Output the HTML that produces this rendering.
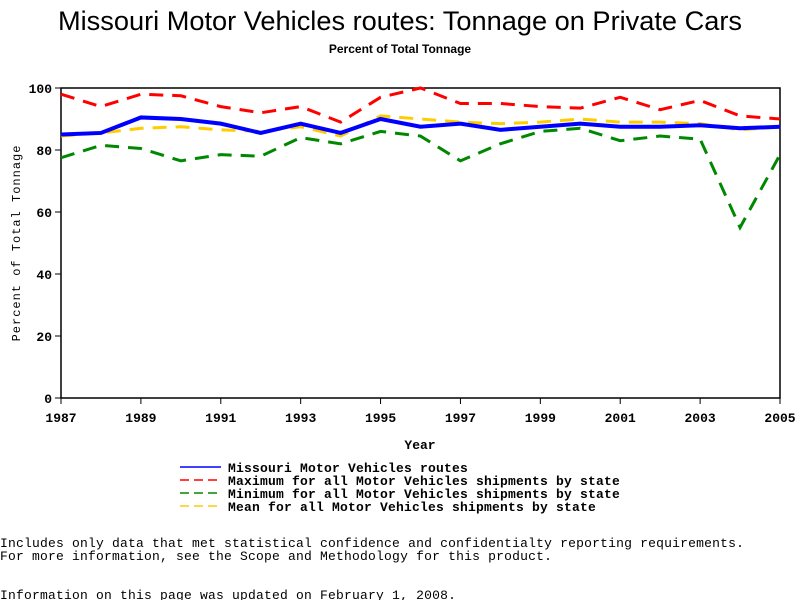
<!DOCTYPE html>
<html><head><meta charset="utf-8"><style>
body{margin:0;background:#fff;width:800px;height:600px;overflow:hidden}
svg text{font-family:"Liberation Mono",monospace}
</style></head><body>
<svg width="800" height="600">
<text x="400" y="30" text-anchor="middle" font-size="27.2" style="font-family:'Liberation Sans',sans-serif">Missouri Motor Vehicles routes: Tonnage on Private Cars</text>
<text x="400" y="53" text-anchor="middle" font-size="12" font-weight="bold" style="font-family:'Liberation Sans',sans-serif">Percent of Total Tonnage</text>
<rect x="61" y="88" width="719" height="310" fill="none" stroke="#000" stroke-width="1.5"/>
<g id="ticks"></g>
<g id="series"></g>
<text x="20" y="243" transform="rotate(-90 20 243)" text-anchor="middle" font-size="12" letter-spacing="1">Percent of Total Tonnage</text>
<text x="420" y="449" text-anchor="middle" font-size="13" font-weight="bold">Year</text>
<g font-size="13" font-weight="bold" letter-spacing="0.2">
<line x1="180" y1="467" x2="221" y2="467" stroke="#00f" stroke-width="1.5"/>
<text x="228" y="472">Missouri Motor Vehicles routes</text>
<line x1="180" y1="480" x2="221" y2="480" stroke="#f00" stroke-width="1.5" stroke-dasharray="9,5"/>
<text x="228" y="485">Maximum for all Motor Vehicles shipments by state</text>
<line x1="180" y1="493" x2="221" y2="493" stroke="#080" stroke-width="1.5" stroke-dasharray="9,5"/>
<text x="228" y="498">Minimum for all Motor Vehicles shipments by state</text>
<line x1="180" y1="506" x2="221" y2="506" stroke="#fc0" stroke-width="1.5" stroke-dasharray="9,5"/>
<text x="228" y="511">Mean for all Motor Vehicles shipments by state</text>
</g>
<g font-size="13" letter-spacing="0.2">
<text x="0" y="547">Includes only data that met statistical confidence and confidentialty reporting requirements.</text>
<text x="0" y="560">For more information, see the Scope and Methodology for this product.</text>
<text x="0" y="599">Information on this page was updated on February 1, 2008.</text>
</g>
</svg>
<script>
const years=[1987,1988,1989,1990,1991,1992,1993,1994,1995,1996,1997,1998,1999,2000,2001,2002,2003,2004,2005];
const maxVals=[98,94,98,97.5,94,92,94,89,97,100,95,95,94,93.5,97,93,96,91,90];
const minVals=[77.5,81.5,80.5,76.5,78.5,78,84,82,86,84.5,76.5,82,86,87,83,84.5,83.5,55,78.5];
const moVals=[85,85.5,90.5,90,88.5,85.5,88.5,85.5,90,87.5,88.5,86.5,87.5,88.5,87.5,87.5,88,87,87.5];
const meanVals=[84.5,85.5,87,87.5,86.5,86,87.5,84.5,91,90,89,88.5,89,90,89,89,88.5,86.5,87.5];
const yTicks=[0,20,40,60,80,100];
const xTicks=[1987,1989,1991,1993,1995,1997,1999,2001,2003,2005];
const NS="http://www.w3.org/2000/svg";
const X=v=>61+(v-1987)*719/18, Y=v=>398-v*3.1;
const tg=document.getElementById('ticks'), sg=document.getElementById('series');
function mk(tag,attrs,parent){const e=document.createElementNS(NS,tag);for(const k in attrs)e.setAttribute(k,attrs[k]);parent.appendChild(e);return e;}
yTicks.forEach(v=>{
 const l=mk('line',{x1:55,x2:61,y1:Y(v),y2:Y(v),stroke:'#000'},tg);
 
 
 const t=mk('text',{x:52,y:Y(v)+5,'text-anchor':'end','font-size':13,'font-weight':'bold'},tg);t.textContent=v;
 
 
});
xTicks.forEach(v=>{
 const l=mk('line',{x1:X(v),x2:X(v),y1:398,y2:404,stroke:'#000'},tg);
 
 
 const t=mk('text',{x:X(v),y:422,'text-anchor':'middle','font-size':13,'font-weight':'bold'},tg);t.textContent=v;
 
 
});
function line(vals,color,w,dash,name){
 const p=mk('polyline',{points:vals.map((v,i)=>X(years[i])+','+Y(v)).join(' '),fill:'none',stroke:color,'stroke-width':w},sg);
 if(dash)p.setAttribute('stroke-dasharray',dash);
 
 
}
line(maxVals,'#f00',3,'14,9','series-maximum');
line(minVals,'#080',3,'14,9','series-minimum');
line(meanVals,'#fc0',3,'14,9','series-mean');
line(moVals,'#00f',4,null,'series-missouri');
</script>
</body></html>
